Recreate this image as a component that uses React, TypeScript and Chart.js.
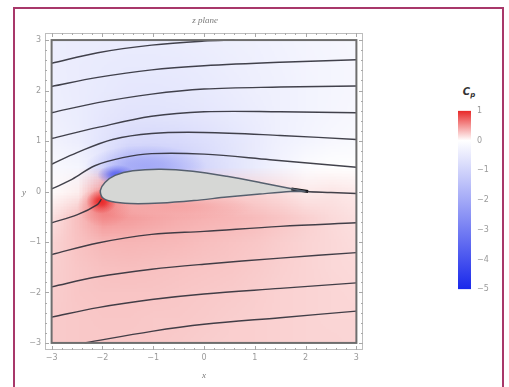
import React, { useEffect, useRef } from 'react';
import { Chart, registerables } from 'chart.js';
Chart.register(...registerables);

// ---------- data ----------
const axisTicks = [-3, -2, -1, 0, 1, 2, 3];
const colorbarTicks = [1, 0, -1, -2, -3, -4, -5];
const colorbarStops = [1, 0.5, 0, -1, -2, -3, -4, -5];

const fieldX = [-3, -2.5, -2, -1.5, -1, -0.5, 0, 0.5, 1, 1.5, 2, 2.5, 3];
const fieldY = [3, 2.5, 2, 1.5, 1, 0.5, 0, -0.5, -1, -1.5, -2, -2.5, -3];
const cpAtY3 = [-0.42, -0.43, -0.44, -0.45, -0.45, -0.43, -0.4, -0.36, -0.32, -0.28, -0.24, -0.2, -0.17];
const cpAtY2_5 = [-0.4, -0.44, -0.47, -0.5, -0.5, -0.48, -0.45, -0.4, -0.35, -0.3, -0.25, -0.21, -0.18];
const cpAtY2 = [-0.38, -0.44, -0.5, -0.55, -0.56, -0.54, -0.5, -0.44, -0.38, -0.32, -0.26, -0.21, -0.18];
const cpAtY1_5 = [-0.34, -0.43, -0.55, -0.64, -0.66, -0.63, -0.57, -0.49, -0.41, -0.33, -0.26, -0.2, -0.16];
const cpAtY1 = [-0.28, -0.4, -0.62, -0.85, -0.9, -0.85, -0.75, -0.6, -0.46, -0.33, -0.23, -0.16, -0.12];
const cpAtY0_5 = [-0.14, -0.22, -0.55, -1.4, -1.4, -1.2, -0.9, -0.65, -0.45, -0.25, -0.06, 0.0, 0.0];
const cpAtY0 = [0.02, 0.08, 0.5, 0.3, 0.25, 0.22, 0.22, 0.22, 0.2, 0.16, 0.1, 0.12, 0.1];
const cpAtYm0_5 = [0.14, 0.3, 0.5, 0.46, 0.42, 0.38, 0.36, 0.34, 0.31, 0.27, 0.22, 0.17, 0.14];
const cpAtYm1 = [0.2, 0.28, 0.33, 0.34, 0.33, 0.32, 0.3, 0.28, 0.26, 0.23, 0.2, 0.18, 0.16];
const cpAtYm1_5 = [0.22, 0.26, 0.29, 0.3, 0.29, 0.28, 0.27, 0.26, 0.24, 0.22, 0.2, 0.18, 0.17];
const cpAtYm2 = [0.23, 0.26, 0.27, 0.27, 0.27, 0.26, 0.25, 0.24, 0.23, 0.21, 0.2, 0.19, 0.18];
const cpAtYm2_5 = [0.24, 0.25, 0.26, 0.26, 0.25, 0.25, 0.24, 0.23, 0.22, 0.21, 0.2, 0.19, 0.19];
const cpAtYm3 = [0.24, 0.25, 0.25, 0.25, 0.25, 0.24, 0.23, 0.22, 0.22, 0.21, 0.2, 0.2, 0.19];
const cpRows = [cpAtY3, cpAtY2_5, cpAtY2, cpAtY1_5, cpAtY1, cpAtY0_5, cpAtY0, cpAtYm0_5, cpAtYm1, cpAtYm1_5, cpAtYm2, cpAtYm2_5, cpAtYm3];

// local Cp extremes near the airfoil: [x, y, rx, ry, Cp]
const cpSpots = [
  [-1.95, -0.3, 0.55, 0.4, 0.6],
  [-0.6, -0.3, 1.6, 0.28, 0.42],
  [-2.02, -0.2, 0.3, 0.24, 1.0],
  [-1.15, 0.5, 1.2, 0.42, -2.0],
  [-1.72, 0.33, 0.38, 0.2, -3.6],
];

// airfoil outline (trailing edge -> upper -> leading edge -> lower -> trailing edge)
const airfoil = [
  [2.0, 0.0], [1.7, 0.06], [1.1, 0.18], [0.45, 0.3], [-0.22, 0.4], [-0.85, 0.44], [-1.4, 0.41],
  [-1.75, 0.32], [-1.95, 0.18], [-2.04, 0.02], [-2.0, -0.12], [-1.82, -0.2], [-1.45, -0.24],
  [-0.85, -0.23], [-0.2, -0.18], [0.45, -0.11], [1.1, -0.05], [1.7, 0.0], [2.0, 0.0],
];

// streamlines
const streamU1 = [[-3, 2.54], [-2.09, 2.75], [-1.03, 2.9], [0, 2.98], [0.6, 3.0]];
const streamU2 = [[-3, 2.08], [-2.09, 2.26], [-1.03, 2.41], [0, 2.49], [1.5, 2.56], [3, 2.61]];
const streamU3 = [[-3, 1.56], [-2.09, 1.76], [-1.03, 1.93], [0, 2.03], [1.5, 2.07], [3, 2.09]];
const streamU4 = [[-3, 1.05], [-2.09, 1.27], [-1.03, 1.49], [0, 1.58], [1.5, 1.58], [3, 1.56]];
const streamU5 = [[-3, 0.54], [-2.5, 0.77], [-1.8, 1.03], [-1.03, 1.15], [0, 1.17], [1.5, 1.11], [3, 1.03]];
const streamU6 = [[-3, 0.05], [-2.6, 0.24], [-2.15, 0.51], [-1.6, 0.67], [-1.03, 0.75], [0, 0.74], [1.3, 0.63], [3, 0.48]];
const streamStag = [[-3, -0.62], [-2.49, -0.46], [-2.1, -0.26], [-2.02, -0.15]];
const streamWake = [[1.75, 0.03], [2.0, 0.0], [2.5, -0.02], [3, -0.04]];
const streamL2 = [[-3, -1.25], [-2.09, -1.02], [-1.03, -0.85], [0, -0.79], [1.5, -0.69], [3, -0.62]];
const streamL3 = [[-3, -1.89], [-2.09, -1.69], [-1.03, -1.54], [0, -1.44], [1.5, -1.32], [3, -1.21]];
const streamL4 = [[-3, -2.49], [-2.09, -2.3], [-1.03, -2.14], [0, -2.03], [1.5, -1.92], [3, -1.81]];
const streamL5 = [[-2.35, -3.0], [-1.03, -2.77], [0, -2.63], [1.5, -2.5], [3, -2.37]];
const trailingTip = [[1.72, 0.05], [2.05, 0.0]];
const streamlines = [streamU1, streamU2, streamU3, streamU4, streamU5, streamU6, streamStag, streamWake, streamL2, streamL3, streamL4, streamL5];

// ---------- styles ----------
const RED = [232, 40, 40];
const BLUE = [25, 40, 235];
const TICK_COLOR = '#9a9a9a';
const TICK_FONT = { size: 8, family: 'DejaVu Sans' };

function cpRGB(cp: number) {
  let t: number, c: number[];
  if (cp >= 0) { t = Math.min(cp, 1); c = RED; } else { t = Math.min(-cp / 5, 1); c = BLUE; }
  return [255 + (c[0] - 255) * t, 255 + (c[1] - 255) * t, 255 + (c[2] - 255) * t].map(Math.round);
}
function cpColor(cp: number, a = 1) {
  const [r, g, b] = cpRGB(cp);
  return `rgba(${r},${g},${b},${a})`;
}
const fmt = (v: number) => (v < 0 ? '\u2212' + Math.abs(v) : String(v));
const toXY = (pts: number[][]) => pts.map(([x, y]) => ({ x, y }));

const fieldPlugin = {
  id: 'cpField',
  beforeDatasetsDraw(chart: any) {
    const { ctx, scales: { x, y } } = chart;
    const x0 = x.getPixelForValue(fieldX[0]), x1 = x.getPixelForValue(fieldX[fieldX.length - 1]);
    const y0 = y.getPixelForValue(fieldY[0]), y1 = y.getPixelForValue(fieldY[fieldY.length - 1]);
    ctx.save();
    ctx.beginPath();
    ctx.rect(x0, y0, x1 - x0, y1 - y0);
    ctx.clip();
    const nx = fieldX.length, ny = fieldY.length;
    const off = document.createElement('canvas');
    off.width = nx; off.height = ny;
    const octx = off.getContext('2d')!;
    const img = octx.createImageData(nx, ny);
    for (let j = 0; j < ny; j++) {
      for (let i = 0; i < nx; i++) {
        const [r, g, b] = cpRGB(cpRows[j][i]);
        const k = (j * nx + i) * 4;
        img.data[k] = r; img.data[k + 1] = g; img.data[k + 2] = b; img.data[k + 3] = 255;
      }
    }
    octx.putImageData(img, 0, 0);
    ctx.imageSmoothingEnabled = true;
    const dx = (fieldX[1] - fieldX[0]) / 2, dy = (fieldY[0] - fieldY[1]) / 2;
    const ax = x.getPixelForValue(fieldX[0] - dx), bx = x.getPixelForValue(fieldX[nx - 1] + dx);
    const ay = y.getPixelForValue(fieldY[0] + dy), by = y.getPixelForValue(fieldY[ny - 1] - dy);
    ctx.drawImage(off, ax, ay, bx - ax, by - ay);
    for (const [sx, sy, rx, ry, cp] of cpSpots) {
      const cx = x.getPixelForValue(sx), cy = y.getPixelForValue(sy);
      const prx = Math.abs(x.getPixelForValue(sx + rx) - cx);
      const pry = Math.abs(y.getPixelForValue(sy + ry) - cy);
      ctx.save();
      ctx.translate(cx, cy);
      ctx.scale(prx, pry);
      const g = ctx.createRadialGradient(0, 0, 0, 0, 0, 1);
      g.addColorStop(0, cpColor(cp, 1));
      g.addColorStop(0.3, cpColor(cp, 0.8));
      g.addColorStop(0.6, cpColor(cp, 0.4));
      g.addColorStop(1, cpColor(cp, 0));
      ctx.fillStyle = g;
      ctx.beginPath();
      ctx.arc(0, 0, 1, 0, Math.PI * 2);
      ctx.fill();
      ctx.restore();
    }
    ctx.restore();
    // airfoil body fill, using the airfoil dataset's own line path
    const meta = chart.getDatasetMeta(0);
    const el = meta.dataset;
    if (el) {
      if (el.updateControlPoints) el.updateControlPoints(chart.chartArea, 'x');
      ctx.save();
      ctx.beginPath();
      el.path(ctx);
      ctx.closePath();
      ctx.fillStyle = '#d6d7d5';
      ctx.fill();
      ctx.restore();
    }
  },
  afterDatasetsDraw(chart: any) {
    const { ctx, chartArea: a, scales: { x, y } } = chart;
    const x0 = x.getPixelForValue(axisTicks[0]), x1 = x.getPixelForValue(axisTicks[axisTicks.length - 1]);
    const y0 = y.getPixelForValue(axisTicks[axisTicks.length - 1]), y1 = y.getPixelForValue(axisTicks[0]);
    ctx.save();
    ctx.strokeStyle = '#6e6e6e';
    ctx.lineWidth = 2;
    ctx.strokeRect(x0, y0, x1 - x0, y1 - y0);
    ctx.strokeStyle = '#bdbdbd';
    ctx.lineWidth = 1;
    ctx.strokeRect(a.left + 0.5, a.top + 0.5, a.right - a.left - 1, a.bottom - a.top - 1);
    ctx.strokeStyle = '#a8a8a8';
    ctx.beginPath();
    for (let k = -15; k <= 15; k++) {
      const v = k / 5;
      const len = k % 5 === 0 ? 4 : 2;
      const px = Math.round(x.getPixelForValue(v)) + 0.5;
      const py = Math.round(y.getPixelForValue(v)) + 0.5;
      ctx.moveTo(px, a.bottom); ctx.lineTo(px, a.bottom - len);
      ctx.moveTo(px, a.top); ctx.lineTo(px, a.top + len);
      ctx.moveTo(a.left, py); ctx.lineTo(a.left + len, py);
      ctx.moveTo(a.right, py); ctx.lineTo(a.right - len, py);
    }
    ctx.stroke();
    ctx.restore();
  },
};

export default function App() {
  const mainRef = useRef<HTMLCanvasElement>(null);
  const cbRef = useRef<HTMLCanvasElement>(null);

  useEffect(() => {
    const lineDs = (pts: number[][], color: string, width: number) => ({
      data: toXY(pts),
      showLine: true,
      pointRadius: 0,
      borderColor: color,
      borderWidth: width,
      tension: 0.35,
      fill: false,
    });
    const datasets: any[] = [
      { ...lineDs(airfoil, '#56606e', 1.5), tension: 0.3 },
      ...streamlines.map((s) => lineDs(s, 'rgba(45,45,55,0.9)', 1.4)),
      { ...lineDs(trailingTip, '#111', 3), tension: 0 },
    ];
    const main = new Chart(mainRef.current!, {
      type: 'scatter',
      data: { datasets },
      options: {
        animation: false,
        responsive: false,
        events: [],
        layout: { padding: { left: 0, top: 25, right: 51, bottom: 0 } },
        plugins: { legend: { display: false }, tooltip: { enabled: false } },
        scales: {
          x: {
            type: 'linear', position: 'bottom', min: -3.13, max: 3.13,
            afterBuildTicks: (s: any) => { s.ticks = axisTicks.map((v) => ({ value: v })); },
            afterFit: (s: any) => { s.height = 36; },
            ticks: { color: TICK_COLOR, font: TICK_FONT, padding: 3, maxRotation: 0, autoSkip: false, callback: (v: any) => fmt(Number(v)) },
            grid: { display: false, drawTicks: false },
            border: { display: false },
          },
          y: {
            type: 'linear', position: 'left', min: -3.14, max: 3.14,
            afterBuildTicks: (s: any) => { s.ticks = axisTicks.map((v) => ({ value: v })); },
            afterFit: (s: any) => { s.width = 31; },
            ticks: { color: TICK_COLOR, font: TICK_FONT, padding: 4, autoSkip: false, callback: (v: any) => fmt(Number(v)) },
            grid: { display: false, drawTicks: false },
            border: { display: false },
          },
        },
      } as any,
      plugins: [fieldPlugin],
    });

    const cb = new Chart(cbRef.current!, {
      type: 'bar',
      data: {
        labels: ['Cp'],
        datasets: [{
          data: [[colorbarTicks[colorbarTicks.length - 1], colorbarTicks[0]]] as any,
          barPercentage: 1,
          categoryPercentage: 1,
          borderWidth: 0,
          backgroundColor: (c: any) => {
            const ch = c.chart;
            const ys = ch.scales && ch.scales.y;
            if (!ch.chartArea || !ys) return '#88f';
            const top = ys.getPixelForValue(colorbarStops[0]);
            const bot = ys.getPixelForValue(colorbarStops[colorbarStops.length - 1]);
            const g = ch.ctx.createLinearGradient(0, top, 0, bot);
            for (const v of colorbarStops) {
              g.addColorStop((ys.getPixelForValue(v) - top) / (bot - top), cpColor(v));
            }
            return g;
          },
        }],
      },
      options: {
        animation: false,
        responsive: false,
        events: [],
        layout: { padding: { left: 18, top: 10, right: 0, bottom: 8 } },
        plugins: { legend: { display: false }, tooltip: { enabled: false } },
        scales: {
          x: { display: false },
          y: {
            position: 'right', min: -5, max: 1,
            afterBuildTicks: (s: any) => { s.ticks = colorbarTicks.map((v) => ({ value: v })); },
            afterFit: (s: any) => { s.width = 29; },
            ticks: { color: TICK_COLOR, font: TICK_FONT, padding: 6, callback: (v: any) => fmt(Number(v)) },
            grid: { display: false, drawTicks: false },
            border: { display: false },
          },
        },
      } as any,
    });

    return () => { main.destroy(); cb.destroy(); };
  }, []);

  const label = (text: any, left: number, top: number, extra: any = {}) => (
    <div style={{ position: 'absolute', left, top, transform: 'translate(-50%,-50%)', whiteSpace: 'nowrap', lineHeight: 1, ...extra }}>{text}</div>
  );

  return (
    <div style={{ position: 'fixed', left: 0, top: 0, width: 509, height: 387, background: '#fff', overflow: 'hidden' }}>
      <div style={{ position: 'absolute', left: 13, top: 7, width: 491, height: 392, boxSizing: 'border-box', border: '2px solid #a8386a' }} />
      <canvas ref={mainRef} width={400} height={378} style={{ position: 'absolute', left: 14, top: 8, width: 400, height: 378 }} />
      <canvas ref={cbRef} width={60} height={200} style={{ position: 'absolute', left: 440, top: 100, width: 60, height: 200 }} />
      {label('z plane', 205, 20, { fontFamily: 'Liberation Serif', fontStyle: 'italic', fontSize: 9, color: '#7a7a7a' })}
      {label('x', 204, 375, { fontFamily: 'Liberation Serif', fontStyle: 'italic', fontSize: 9, color: '#7a7a7a' })}
      {label('y', 24, 192, { fontFamily: 'Liberation Serif', fontStyle: 'italic', fontSize: 9, color: '#7a7a7a' })}
      {label(<span>C<sub style={{ fontSize: 7, verticalAlign: 'baseline', position: 'relative', top: 2 }}>p</sub></span>, 469, 92, { fontFamily: 'DejaVu Sans', fontStyle: 'italic', fontWeight: 'bold', fontSize: 10, color: '#333' })}
    </div>
  );
}
